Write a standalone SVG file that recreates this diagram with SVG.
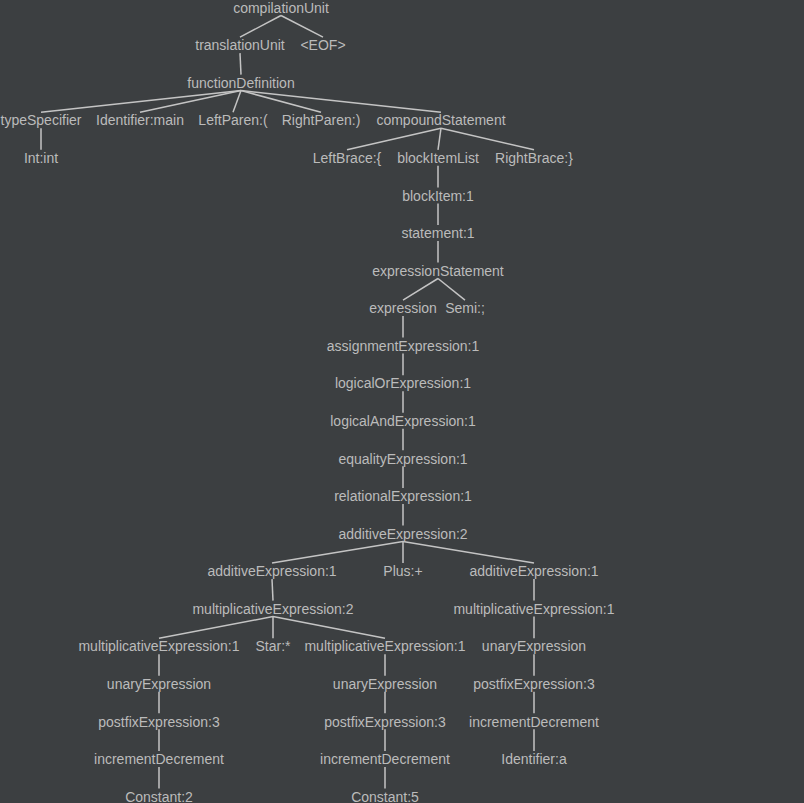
<svg xmlns="http://www.w3.org/2000/svg" width="804" height="803" viewBox="0 0 804 803">
<style>
.bg{fill:#3c3f41}
text{font-family:"Liberation Sans",Arial,sans-serif;font-size:14px;fill:#bbbbbb;text-anchor:middle}
#edges line{stroke:#c4c4c4;stroke-width:1.5}
</style>
<rect class="bg" x="0" y="0" width="804" height="803"/>
<g id="edges">
<line x1="281" y1="15.5" x2="240" y2="37.1"/>
<line x1="281" y1="15.5" x2="323" y2="37.1"/>
<line x1="240" y1="53.1" x2="241" y2="74.6"/>
<line x1="241" y1="90.6" x2="41" y2="112.2"/>
<line x1="241" y1="90.6" x2="140" y2="112.2"/>
<line x1="241" y1="90.6" x2="233" y2="112.2"/>
<line x1="241" y1="90.6" x2="321" y2="112.2"/>
<line x1="241" y1="90.6" x2="441" y2="112.2"/>
<line x1="41" y1="128.2" x2="41" y2="149.8"/>
<line x1="441" y1="128.2" x2="347" y2="149.8"/>
<line x1="441" y1="128.2" x2="438" y2="149.8"/>
<line x1="441" y1="128.2" x2="534" y2="149.8"/>
<line x1="438" y1="165.8" x2="438" y2="187.4"/>
<line x1="438" y1="203.4" x2="438" y2="224.9"/>
<line x1="438" y1="240.9" x2="438" y2="262.5"/>
<line x1="438" y1="278.5" x2="403" y2="300.1"/>
<line x1="438" y1="278.5" x2="465" y2="300.1"/>
<line x1="403" y1="316.1" x2="403" y2="337.6"/>
<line x1="403" y1="353.6" x2="403" y2="375.2"/>
<line x1="403" y1="391.2" x2="403" y2="412.8"/>
<line x1="403" y1="428.8" x2="403" y2="450.3"/>
<line x1="403" y1="466.3" x2="403" y2="487.9"/>
<line x1="403" y1="503.9" x2="403" y2="525.5"/>
<line x1="403" y1="541.5" x2="272" y2="563.1"/>
<line x1="403" y1="541.5" x2="403" y2="563.1"/>
<line x1="403" y1="541.5" x2="534" y2="563.1"/>
<line x1="272" y1="579.1" x2="273" y2="600.6"/>
<line x1="273" y1="616.6" x2="159" y2="638.2"/>
<line x1="273" y1="616.6" x2="273" y2="638.2"/>
<line x1="273" y1="616.6" x2="385" y2="638.2"/>
<line x1="159" y1="654.2" x2="159" y2="675.8"/>
<line x1="159" y1="691.8" x2="159" y2="713.3"/>
<line x1="159" y1="729.3" x2="159" y2="750.9"/>
<line x1="159" y1="766.9" x2="159" y2="788.5"/>
<line x1="385" y1="654.2" x2="385" y2="675.8"/>
<line x1="385" y1="691.8" x2="385" y2="713.3"/>
<line x1="385" y1="729.3" x2="385" y2="750.9"/>
<line x1="385" y1="766.9" x2="385" y2="788.5"/>
<line x1="534" y1="579.1" x2="534" y2="600.6"/>
<line x1="534" y1="616.6" x2="534" y2="638.2"/>
<line x1="534" y1="654.2" x2="534" y2="675.8"/>
<line x1="534" y1="691.8" x2="534" y2="713.3"/>
<line x1="534" y1="729.3" x2="534" y2="750.9"/>
</g>
<g id="n-compilationUnit"><text x="281" y="12.7">compilationUnit</text></g>
<g id="n-translationUnit"><text x="240" y="50.3">translationUnit</text></g>
<g id="n-EOF"><text x="323" y="50.3">&lt;EOF&gt;</text></g>
<g id="n-functionDefinition"><text x="241" y="87.8">functionDefinition</text></g>
<g id="n-typeSpecifier"><text x="41" y="125.4">typeSpecifier</text></g>
<g id="n-identifierMain"><text x="140" y="125.4">Identifier:main</text></g>
<g id="n-leftParen"><text x="233" y="125.4">LeftParen:(</text></g>
<g id="n-rightParen"><text x="321" y="125.4">RightParen:)</text></g>
<g id="n-compoundStatement"><text x="441" y="125.4">compoundStatement</text></g>
<g id="n-int"><text x="41" y="163">Int:int</text></g>
<g id="n-leftBrace"><text x="347" y="163">LeftBrace:{</text></g>
<g id="n-blockItemList"><text x="438" y="163">blockItemList</text></g>
<g id="n-rightBrace"><text x="534" y="163">RightBrace:}</text></g>
<g id="n-blockItem"><text x="438" y="200.6">blockItem:1</text></g>
<g id="n-statement"><text x="438" y="238.1">statement:1</text></g>
<g id="n-expressionStatement"><text x="438" y="275.7">expressionStatement</text></g>
<g id="n-expression"><text x="403" y="313.3">expression</text></g>
<g id="n-semi"><text x="465" y="313.3">Semi:;</text></g>
<g id="n-assignmentExpression"><text x="403" y="350.8">assignmentExpression:1</text></g>
<g id="n-logicalOrExpression"><text x="403" y="388.4">logicalOrExpression:1</text></g>
<g id="n-logicalAndExpression"><text x="403" y="426">logicalAndExpression:1</text></g>
<g id="n-equalityExpression"><text x="403" y="463.5">equalityExpression:1</text></g>
<g id="n-relationalExpression"><text x="403" y="501.1">relationalExpression:1</text></g>
<g id="n-additiveExpression2"><text x="403" y="538.7">additiveExpression:2</text></g>
<g id="n-additiveExpression1a"><text x="272" y="576.3">additiveExpression:1</text></g>
<g id="n-plus"><text x="403" y="576.3">Plus:+</text></g>
<g id="n-additiveExpression1b"><text x="534" y="576.3">additiveExpression:1</text></g>
<g id="n-multiplicativeExpression2"><text x="273" y="613.8">multiplicativeExpression:2</text></g>
<g id="n-multiplicativeExpression1c"><text x="534" y="613.8">multiplicativeExpression:1</text></g>
<g id="n-multiplicativeExpression1a"><text x="159" y="651.4">multiplicativeExpression:1</text></g>
<g id="n-star"><text x="273" y="651.4">Star:*</text></g>
<g id="n-multiplicativeExpression1b"><text x="385" y="651.4">multiplicativeExpression:1</text></g>
<g id="n-unaryExpressionC"><text x="534" y="651.4">unaryExpression</text></g>
<g id="n-unaryExpressionA"><text x="159" y="689">unaryExpression</text></g>
<g id="n-unaryExpressionB"><text x="385" y="689">unaryExpression</text></g>
<g id="n-postfixExpressionC"><text x="534" y="689">postfixExpression:3</text></g>
<g id="n-postfixExpressionA"><text x="159" y="726.5">postfixExpression:3</text></g>
<g id="n-postfixExpressionB"><text x="385" y="726.5">postfixExpression:3</text></g>
<g id="n-incrementDecrementC"><text x="534" y="726.5">incrementDecrement</text></g>
<g id="n-incrementDecrementA"><text x="159" y="764.1">incrementDecrement</text></g>
<g id="n-incrementDecrementB"><text x="385" y="764.1">incrementDecrement</text></g>
<g id="n-identifierA"><text x="534" y="764.1">Identifier:a</text></g>
<g id="n-constant2"><text x="159" y="801.7">Constant:2</text></g>
<g id="n-constant5"><text x="385" y="801.7">Constant:5</text></g>
</svg>
